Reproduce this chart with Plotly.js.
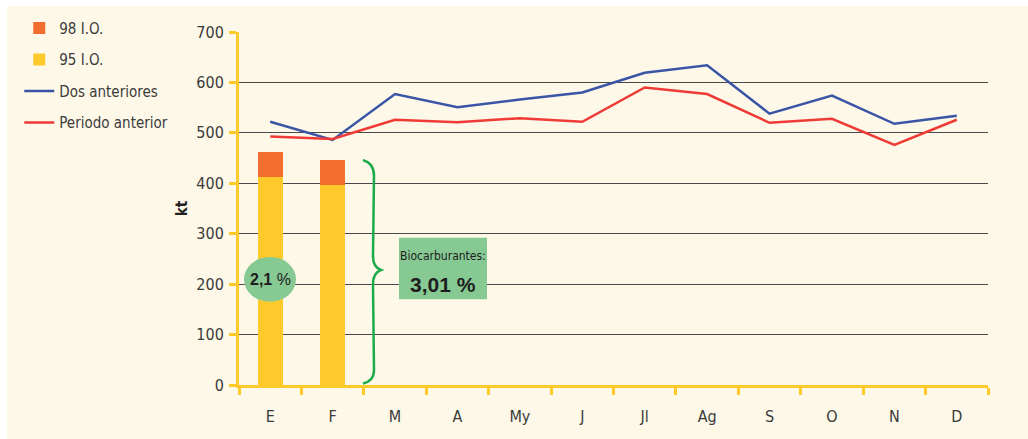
<!DOCTYPE html>
<html>
<head>
<meta charset="utf-8">
<script src="https://cdn.plot.ly/plotly-3.0.1.min.js"></script>
<style>
  html, body { margin:0; padding:0; background:#fff; }
  #chart { position:absolute; left:7px; top:6px; width:1021px; height:433px; }
</style>
</head>
<body>
<div id="chart"></div>
<script>
const months = ['E','F','M','A','My','J','Jl','Ag','S','O','N','D'];
const io95 = [413, 397];
const io98 = [49, 49];
const dosAnteriores = [522, 486, 577, 551, 566, 580, 619, 634, 538, 574, 518, 534];
const periodoAnterior = [493, 488, 526, 521, 529, 522, 590, 577, 520, 528, 476, 526];

const FONT = '"Liberation Sans Narrow", "DejaVu Sans Condensed", "Arial Narrow", sans-serif';
const INK = '#3b3b3b';
const YEL = '#fdc92b';
const GREEN = '#87c993';

const traces = [
  {name:'95 I.O.', type:'bar', x:months.slice(0, io95.length), y:io95,
   marker:{color:YEL}, width:0.4, legendrank:2, legendgroup:'b'},
  {name:'98 I.O.', type:'bar', x:months.slice(0, io98.length), y:io98,
   marker:{color:'#f26e2e'}, width:0.4, legendrank:1, legendgroup:'a'},
  {name:'Dos anteriores', type:'scatter', mode:'lines', x:months, y:dosAnteriores,
   line:{color:'#3a55a6', width:2.5}, legendrank:3, legendgroup:'c'},
  {name:'Periodo anterior', type:'scatter', mode:'lines', x:months, y:periodoAnterior,
   line:{color:'#ee3b36', width:2.5}, legendrank:4, legendgroup:'d'},
];

// pixel x inside the plot area -> paper fraction (plot spans 749px)
const px = v => (v - 239) / 749;

const layout = {
  width:1021, height:433,
  margin:{l:232, r:40, t:26, b:54},
  paper_bgcolor:'#fdf8e8', plot_bgcolor:'#fdf8e8',
  barmode:'stack', bargap:0.6,
  font:{family:FONT, color:INK, size:16},
  showlegend:true,
  legend:{xref:'container', yref:'container', x:0.012, y:0.987, xanchor:'left', yanchor:'top',
          traceorder:'grouped', tracegroupgap:9, bgcolor:'rgba(0,0,0,0)',
          font:{family:FONT, size:15, color:INK}, itemwidth:30},
  xaxis:{type:'category', range:[-0.5, 11.5], tickson:'boundaries', ticks:'outside',
         ticklen:7, tickwidth:3, tickcolor:YEL, showline:true, linecolor:YEL, linewidth:3,
         showgrid:false, ticklabelstandoff:15, tickfont:{size:16, color:INK}, zeroline:false},
  yaxis:{range:[0, 700], dtick:100, ticks:'outside', ticklen:7, tickwidth:3, tickcolor:YEL,
         showline:true, linecolor:YEL, linewidth:3, gridcolor:'#4a4a4a', gridwidth:1,
         zeroline:false, ticklabelstandoff:2, tickfont:{size:16, color:INK},
         title:{text:'<b>kt</b>', font:{family:'"DejaVu Sans Condensed", sans-serif', size:15, color:'#222'}, standoff:38}},
  shapes:[
    {type:'circle', xref:'paper', yref:'y', x0:px(244), x1:px(296), y0:165, y1:254,
     fillcolor:GREEN, line:{width:0}, layer:'above'},
    {type:'rect', xref:'paper', yref:'y', x0:px(399), x1:px(487), y0:170, y1:292,
     fillcolor:GREEN, line:{width:0}, layer:'above'},
    {type:'path', xref:'paper', yref:'y', line:{color:'#1daa4b', width:2.5},
     path:`M ${px(363)},446 Q ${px(374)},440 ${px(374)},415 L ${px(373)},255 ` +
          `Q ${px(373)},234 ${px(381)},228 Q ${px(373)},222 ${px(373)},200 ` +
          `L ${px(374)},30 Q ${px(374)},8 ${px(363)},3`},
  ],
  annotations:[
    {xref:'paper', yref:'y', x:px(270), y:209, xanchor:'center', yanchor:'middle', showarrow:false,
     text:'<b>2,1</b> %', font:{family:'"Liberation Sans", Arial, sans-serif', size:16, color:'#1e1e1e'}},
    {xref:'paper', yref:'y', x:px(443), y:256, xanchor:'center', yanchor:'middle', showarrow:false,
     text:'Biocarburantes:', font:{family:FONT, size:12, color:'#1e1e1e'}},
    {xref:'paper', yref:'y', x:px(443), y:200, xanchor:'center', yanchor:'middle', showarrow:false,
     text:'<b>3,01 %</b>', font:{family:'"Liberation Sans", Arial, sans-serif', size:21, color:'#1e1e1e'}},
  ],
};

Plotly.newPlot('chart', traces, layout, {displayModeBar:false, staticPlot:true});
</script>
</body>
</html>
